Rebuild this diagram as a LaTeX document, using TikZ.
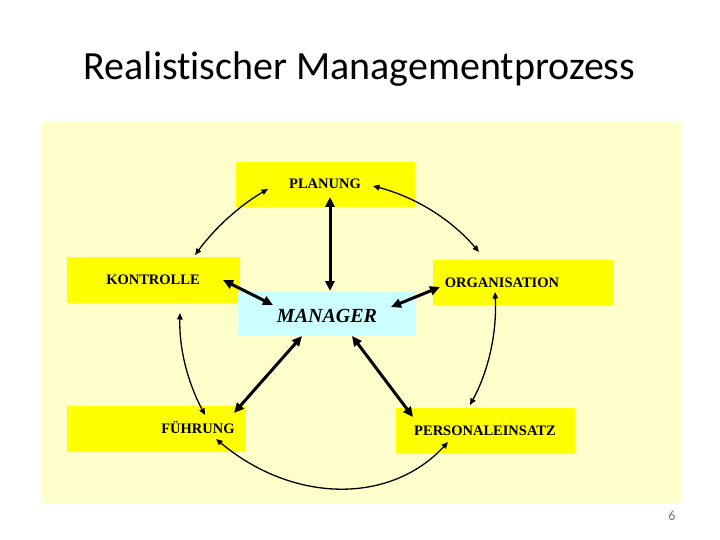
\documentclass[tikz,border=0pt]{standalone}
\usepackage{fontspec}
\setmainfont{Liberation Serif}
\newfontfamily\titlefont[Ligatures=NoCommon]{Carlito}
\usetikzlibrary{arrows.meta}
\definecolor{cream}{RGB}{255,255,204}
\definecolor{boxyellow}{RGB}{255,255,0}
\definecolor{boxblue}{RGB}{204,255,255}
\definecolor{pagegray}{RGB}{120,120,120}
\begin{document}
\begin{tikzpicture}[x=1pt,y=-1pt,
  ybox/.style={fill=boxyellow, draw=none, inner sep=0pt, anchor=north west},
  bbox/.style={fill=boxblue, draw=none, inner sep=0pt, anchor=north west},
  lbl/.style={font=\fontsize{14.5}{16}\selectfont\bfseries, inner sep=0pt, anchor=base},
  bigarrow/.style={line width=3pt, {Triangle[length=10pt,width=9pt]}-{Triangle[length=10pt,width=9pt]}},
  smallarrow/.style={line width=1.3pt, {Triangle[length=6.5pt,width=5.5pt]}-{Triangle[length=6.5pt,width=5.5pt]}}]
\path[use as bounding box, fill=white] (0,0) rectangle (720,540);
\fill[cream] (42,122) rectangle (682,503);
\node[inner sep=0pt, anchor=base, font=\titlefont\fontsize{40}{44}\selectfont] (title) at (359.5,80) {Realistischer Managementprozess};
\node[inner sep=0pt, anchor=base, font=\titlefont\fontsize{14}{16}\selectfont, text=pagegray] (pnum) at (672,520) {6};
% boxes
\node[ybox, minimum width=179pt, minimum height=45pt] (planbox) at (236,162) {};
\node[ybox, minimum width=173pt, minimum height=46pt] (konbox) at (67,257) {};
\node[ybox, minimum width=180pt, minimum height=45pt] (orgbox) at (433,260) {};
\node[bbox, minimum width=178pt, minimum height=44pt] (manbox) at (238,292) {};
\node[ybox, minimum width=178pt, minimum height=46pt] (fuhbox) at (67,406) {};
\node[ybox, minimum width=179pt, minimum height=45pt] (perbox) at (396,408) {};
% labels
\node[lbl] (plan) at (325,189) {PLANUNG};
\node[lbl] (kon) at (153,284) {KONTROLLE};
\node[lbl] (org) at (502,287) {ORGANISATION};
\node[lbl, font=\fontsize{20}{22}\selectfont\bfseries\itshape] (man) at (327,322) {MANAGER};
\node[lbl] (fuh) at (198,433) {FÜHRUNG};
\node[lbl] (per) at (485,435) {PERSONALEINSATZ};
% arrow end points
\coordinate (pmA) at (330,197); \coordinate (pmB) at (330,291);
\coordinate (kmA) at (223,280); \coordinate (kmB) at (273,305);
\coordinate (omA) at (440,287); \coordinate (omB) at (391,307);
\coordinate (mfA) at (302,336); \coordinate (mfB) at (234,413);
\coordinate (mpA) at (352,336); \coordinate (mpB) at (413,417);
\coordinate (pkA) at (268,189); \coordinate (pkB) at (195,255);
\coordinate (poA) at (373,186); \coordinate (poB) at (479,252);
\coordinate (kfA) at (180,313); \coordinate (kfB) at (205,415);
\coordinate (opA) at (495,292); \coordinate (opB) at (470,405);
\coordinate (fpA) at (216,439); \coordinate (fpB) at (448,442);
% thick connectors
\draw[bigarrow] (pmA) -- (pmB);
\draw[bigarrow] (kmA) -- (kmB);
\draw[bigarrow] (omA) -- (omB);
\draw[bigarrow] (mfA) -- (mfB);
\draw[bigarrow] (mpA) -- (mpB);
% thin curved connectors
\draw[smallarrow] (pkA) .. controls (239,206) and (215,228) .. (pkB);
\draw[smallarrow] (poA) .. controls (415,197) and (451,219) .. (poB);
\draw[smallarrow] (kfA) .. controls (179,349) and (188,383) .. (kfB);
\draw[smallarrow] (opA) .. controls (497,332) and (489,370) .. (opB);
\draw[smallarrow] (fpA) .. controls (294,504) and (391,504) .. (fpB);
\end{tikzpicture}
\end{document}
